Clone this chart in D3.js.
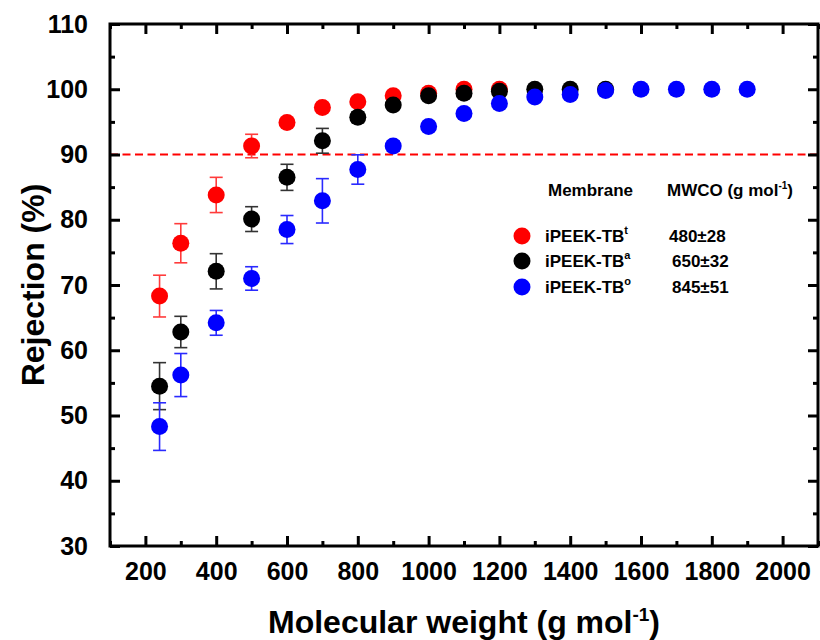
<!DOCTYPE html>
<html>
<head>
<meta charset="utf-8">
<script src="https://cdn.jsdelivr.net/npm/d3@7"></script>
<style>
  html, body { margin: 0; padding: 0; background: #fff; }
  svg { display: block; font-family: "Liberation Sans", Arial, sans-serif; font-weight: bold; }
</style>
</head>
<body>
<svg id="chart" width="820" height="640"></svg>
<script>
// Molecular weight of the probe solutes (g/mol)
const mwRed   = [240, 300, 400, 500, 600, 700, 800, 900, 1000, 1100, 1200];
const mwBlack = [240, 300, 400, 500, 600, 700, 800, 900, 1000, 1100, 1200, 1300, 1400, 1500];
const mwBlue  = [240, 300, 400, 500, 600, 700, 800, 900, 1000, 1100, 1200, 1300, 1400, 1500, 1600, 1700, 1800, 1900];

// Rejection (%) and standard deviation per membrane
const rejRed   = [68.3, 76.4, 83.8, 91.3, 94.9, 97.2, 98.1, 99.0, 99.4, 100.0, 100.0];
const errRed   = [3.2, 3.0, 2.7, 1.8, 0.6, 0.5, 0.4, 0.3, 0.2, 0.1, 0.1];
const rejBlack = [54.5, 62.8, 72.1, 80.1, 86.5, 92.1, 95.7, 97.6, 99.0, 99.4, 99.7, 100.0, 100.0, 100.0];
const errBlack = [3.6, 2.4, 2.7, 1.9, 2.0, 1.9, 0.8, 0.6, 0.4, 0.3, 0.2, 0.1, 0.1, 0.1];
const rejBlue  = [48.3, 56.2, 64.2, 71.0, 78.5, 82.9, 87.7, 91.3, 94.3, 96.3, 97.8, 98.8, 99.2, 99.8, 100.0, 100.0, 100.0, 100.0];
const errBlue  = [3.65, 3.3, 1.9, 1.8, 2.15, 3.4, 2.25, 0.8, 0.6, 0.4, 0.3, 0.2, 0.2, 0.1, 0.1, 0.1, 0.1, 0.1];

// Legend entries
const membranes = ["iPEEK-TB", "iPEEK-TB", "iPEEK-TB"];
const membraneSup = ["t", "a", "o"];
const mwco = ["480±28", "650±32", "845±51"];
const seriesColors = ["#ff0000", "#000000", "#0000ff"];
const errColors = ["#ff3b3b", "#333333", "#2a2aff"];

// Axis ticks
const xMajor = [200, 400, 600, 800, 1000, 1200, 1400, 1600, 1800, 2000];
const xMinor = [100, 300, 500, 700, 900, 1100, 1300, 1500, 1700, 1900, 2100];
const yMajor = [30, 40, 50, 60, 70, 80, 90, 100, 110];
const yMinor = [35, 45, 55, 65, 75, 85, 95, 105];
const cutoff = 90;

const svg = d3.select("#chart");
const L = 110, R = 818, T = 24, B = 546;

const x = d3.scaleLinear().domain([100, 2100]).range([L, R]);
const y = d3.scaleLinear().domain([30, 110]).range([B, T]);

// Cutoff reference line
svg.append("line")
  .attr("x1", x(100)).attr("x2", x(2100))
  .attr("y1", y(cutoff)).attr("y2", y(cutoff))
  .attr("stroke", "#ff0000").attr("stroke-width", 2)
  .attr("stroke-dasharray", "8,4.5");

// Series: red first, then black, then blue on top
const series = [
  { mw: mwRed, rej: rejRed, err: errRed },
  { mw: mwBlack, rej: rejBlack, err: errBlack },
  { mw: mwBlue, rej: rejBlue, err: errBlue }
];
const cap = 6.5, rad = 8.5;

series.forEach((s, i) => {
  const pts = s.mw.map((m, k) => ({ m, v: s.rej[k], e: s.err[k] }));
  const g = svg.append("g");
  const eb = g.append("g").attr("stroke", errColors[i]).attr("stroke-width", 1.6).attr("fill", "none");
  pts.forEach(p => {
    const xc = x(p.m), y1 = y(p.v + p.e), y2 = y(p.v - p.e);
    eb.append("line").attr("x1", xc).attr("x2", xc).attr("y1", y1).attr("y2", y2);
    eb.append("line").attr("x1", xc - cap).attr("x2", xc + cap).attr("y1", y1).attr("y2", y1);
    eb.append("line").attr("x1", xc - cap).attr("x2", xc + cap).attr("y1", y2).attr("y2", y2);
  });
  g.selectAll("circle").data(pts).join("circle")
    .attr("cx", d => x(d.m)).attr("cy", d => y(d.v))
    .attr("r", rad).attr("fill", seriesColors[i]);
});

// Axes with inward ticks on all four sides
function styleAxis(g) {
  g.select(".domain").remove();
  g.selectAll(".tick line").attr("stroke", "#000").attr("stroke-width", 3);
}
const tickFont = 25;

svg.append("g").attr("transform", `translate(0,${B})`)
  .call(d3.axisBottom(x).tickValues(xMajor).tickSizeInner(-10).tickSizeOuter(0).tickPadding(16).tickFormat(d3.format("d")))
  .call(styleAxis)
  .call(g => g.selectAll("text").attr("font-size", tickFont).attr("font-weight", "bold").attr("fill", "#000")
    .attr("font-family", "Liberation Sans, Arial, sans-serif").attr("dy", "0.71em"));
svg.append("g").attr("transform", `translate(0,${B})`)
  .call(d3.axisBottom(x).tickValues(xMinor).tickSizeInner(-5).tickSizeOuter(0).tickFormat(""))
  .call(styleAxis);
svg.append("g").attr("transform", `translate(0,${T})`)
  .call(d3.axisTop(x).tickValues(xMajor).tickSizeInner(-10).tickSizeOuter(0).tickFormat(""))
  .call(styleAxis);
svg.append("g").attr("transform", `translate(0,${T})`)
  .call(d3.axisTop(x).tickValues(xMinor).tickSizeInner(-5).tickSizeOuter(0).tickFormat(""))
  .call(styleAxis);

svg.append("g").attr("transform", `translate(${L},0)`)
  .call(d3.axisLeft(y).tickValues(yMajor).tickSizeInner(-10).tickSizeOuter(0).tickPadding(22).tickFormat(d3.format("d")))
  .call(styleAxis)
  .call(g => g.selectAll("text").attr("font-size", tickFont).attr("font-weight", "bold").attr("fill", "#000")
    .attr("font-family", "Liberation Sans, Arial, sans-serif"));
svg.append("g").attr("transform", `translate(${L},0)`)
  .call(d3.axisLeft(y).tickValues(yMinor).tickSizeInner(-5).tickSizeOuter(0).tickFormat(""))
  .call(styleAxis);
svg.append("g").attr("transform", `translate(${R},0)`)
  .call(d3.axisRight(y).tickValues(yMajor).tickSizeInner(-10).tickSizeOuter(0).tickFormat(""))
  .call(styleAxis);
svg.append("g").attr("transform", `translate(${R},0)`)
  .call(d3.axisRight(y).tickValues(yMinor).tickSizeInner(-5).tickSizeOuter(0).tickFormat(""))
  .call(styleAxis);

// Frame
svg.append("rect")
  .attr("x", L).attr("y", T).attr("width", R - L).attr("height", B - T)
  .attr("fill", "none").attr("stroke", "#000").attr("stroke-width", 3);

// Axis titles
const xt = svg.append("text")
  .attr("x", (L + R) / 2).attr("y", 633).attr("text-anchor", "middle")
  .attr("font-size", 32).attr("fill", "#000");
xt.append("tspan").text("Molecular weight (g mol");
xt.append("tspan").attr("font-size", 19).attr("dy", -12).text("-1");
xt.append("tspan").attr("dy", 12).text(")");

svg.append("text")
  .attr("transform", `translate(44,${(T + B) / 2}) rotate(-90)`)
  .attr("text-anchor", "middle")
  .attr("font-size", 32).attr("fill", "#000")
  .text("Rejection (%)");

// Legend
const leg = svg.append("g");
leg.append("text").attr("x", 548).attr("y", 196).attr("font-size", 17).text("Membrane");
const hdr = leg.append("text").attr("x", 667).attr("y", 196).attr("font-size", 17);
hdr.append("tspan").text("MWCO (g mol");
hdr.append("tspan").attr("font-size", 10).attr("dy", -7).text("-1");
hdr.append("tspan").attr("dy", 7).text(")");

const rowY = [236, 261, 287];
membranes.forEach((name, i) => {
  leg.append("circle").attr("cx", 522).attr("cy", rowY[i]).attr("r", rad).attr("fill", seriesColors[i]);
  const t = leg.append("text").attr("x", 545).attr("y", rowY[i] + 6).attr("font-size", 17);
  t.append("tspan").text(name);
  t.append("tspan").attr("font-size", 11).attr("dy", -8).text(membraneSup[i]);
  leg.append("text").attr("x", i === 0 ? 669 : 672).attr("y", rowY[i] + 6).attr("font-size", 17).text(mwco[i]);
});
</script>
</body>
</html>
